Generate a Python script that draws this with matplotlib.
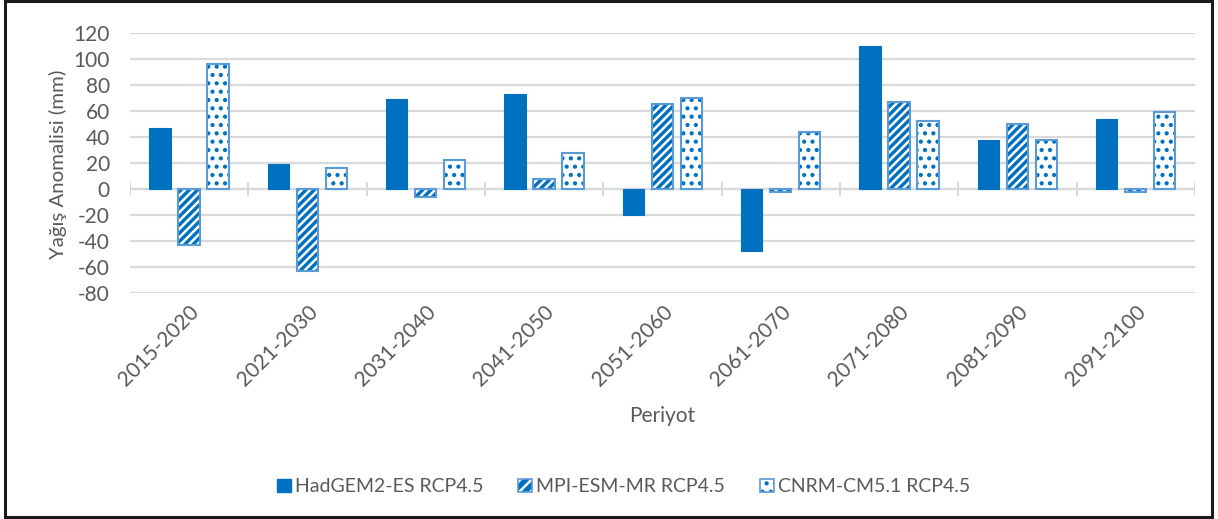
import matplotlib
matplotlib.use("Agg")
import matplotlib.pyplot as plt
import numpy as np
from matplotlib.patches import Patch, Rectangle
from matplotlib.legend_handler import HandlerTuple

periods = ["2015-2020", "2021-2030", "2031-2040", "2041-2050", "2051-2060",
           "2061-2070", "2071-2080", "2081-2090", "2091-2100"]
hadgem = [47, 19, 69, 73, -20, -48, 110, 38, 54]
mpi = [-43, -63, -6, 7.5, 65.5, -2, 67, 50, -2]
cnrm = [96, 16, 22.5, 28, 70, 44, 52, 37.5, 59.5]
series_names = ["HadGEM2-ES RCP4.5", "MPI-ESM-MR RCP4.5", "CNRM-CM5.1 RCP4.5"]
yticks = [-80, -60, -40, -20, 0, 20, 40, 60, 80, 100, 120]

plt.rcParams['font.family'] = ['Lato', 'DejaVu Sans']
plt.rcParams['hatch.linewidth'] = 1.8

BLUE = "#0070C0"
LIGHT = "#5B9BD5"
TXT = "#595959"
GRID = "#D9D9D9"
FS = 15

fig = plt.figure(figsize=(12.18, 5.19), dpi=100)
ax = fig.add_axes([0.1067, 0.4355, 0.981 - 0.1067, 0.9364 - 0.4355])

x = np.arange(len(periods))
w = 0.18
off = 0.245

ax.bar(x - off, hadgem, w, color=BLUE, edgecolor=BLUE, linewidth=0.8, zorder=3)
ax.bar(x, mpi, w, facecolor=BLUE, edgecolor="white", hatch="////", linewidth=0, zorder=3)
ax.bar(x, mpi, w, facecolor="none", edgecolor=LIGHT, linewidth=1.5, zorder=4)
ax.bar(x + off, cnrm, w, facecolor="white", edgecolor=BLUE, hatch="..", linewidth=0, zorder=3)
ax.bar(x + off, cnrm, w, facecolor="none", edgecolor=LIGHT, linewidth=1.5, zorder=4)

ax.set_xlim(-0.5, len(periods) - 0.5)
ax.set_ylim(-80, 120)
ax.set_yticks(yticks)
ax.set_yticklabels([str(v) for v in yticks], color=TXT, fontsize=FS)
ax.yaxis.grid(True, color=GRID, linewidth=1.6, zorder=0)
ax.set_axisbelow(True)
ax.tick_params(axis='y', length=0, pad=14.5)
ax.tick_params(axis='x', length=0, pad=6)
for s in ax.spines.values():
    s.set_visible(False)

ax.axhline(0, color=GRID, linewidth=1.6, zorder=2)
ax.vlines(np.arange(len(periods) + 1) - 0.5, -5.5, 5.5, color=GRID, linewidth=1.4, zorder=2)

ax.set_xticks(x)
ax.set_xticklabels(periods, rotation=45, ha='right', va='top', rotation_mode='anchor',
                   color=TXT, fontsize=FS)
fig.text(58 / 1218, 1 - 164 / 519, "Yağış Anomalisi (mm)", color=TXT, fontsize=14.7,
         rotation=90, ha='center', va='center')
fig.text(0.5435, 0.198, "Periyot", color=TXT, fontsize=15, ha='center', va='center')

h1 = Patch(facecolor=BLUE, edgecolor=BLUE)
h2a = Patch(facecolor=BLUE, edgecolor="white", hatch="///", linewidth=0)
h2b = Patch(facecolor="none", edgecolor=LIGHT, linewidth=1.2)
h3a = Patch(facecolor="white", edgecolor=BLUE, hatch="..", linewidth=0)
h3b = Patch(facecolor="none", edgecolor=LIGHT, linewidth=1.2)
leg = fig.legend([h1, (h2a, h2b), (h3a, h3b)], series_names,
                 handler_map={tuple: HandlerTuple(ndivide=1)},
                 loc='center', bbox_to_anchor=(0.512, 0.062), ncol=3, frameon=False,
                 fontsize=14, handlelength=0.72, handleheight=0.72, handletextpad=0.2,
                 columnspacing=1.8)
for t in leg.get_texts():
    t.set_color(TXT)

fig.patches.append(Rectangle((0.0045, 0.004), 0.995 - 0.0045, 0.994, transform=fig.transFigure,
                             fill=False, edgecolor="#1a1a1a", linewidth=2.2))

fig.savefig("out.png", dpi=100)
